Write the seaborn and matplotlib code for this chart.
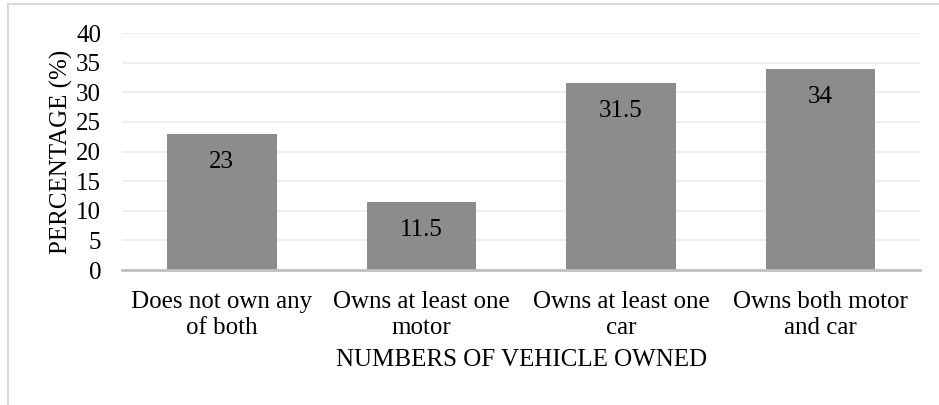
import matplotlib
matplotlib.use("Agg")
import matplotlib.pyplot as plt
import seaborn as sns
import pandas as pd
from matplotlib.patches import Rectangle

categories = ["Does not own any\nof both", "Owns at least one\nmotor", "Owns at least one\ncar", "Owns both motor\nand car"]
values = [23, 11.5, 31.5, 34]
value_labels = ["23", "11.5", "31.5", "34"]
yticks = [0, 5, 10, 15, 20, 25, 30, 35, 40]

sns.set_theme(style="white")
plt.rcParams['font.family'] = ['Liberation Serif', 'DejaVu Serif']

FS = 18
df = pd.DataFrame({"cat": categories, "val": values})

fig = plt.figure(figsize=(9.39, 4.05), dpi=100)
ax = fig.add_axes([0.130, 0.333, 0.850, 0.5855])
sns.barplot(data=df, x="cat", y="val", color="#8c8c8c", saturation=1, width=0.55, ax=ax, zorder=3)
for p in ax.patches:
    p.set_edgecolor("none")

ax.set_ylim(0, 40)
ax.set_yticks(yticks)
ax.set_yticklabels([str(t) for t in yticks], fontsize=FS, color="#000000")
ax.tick_params(axis='x', labelsize=FS, colors="#000000", length=0, pad=15)
ax.tick_params(axis='y', length=0, pad=15)
for t in ax.get_xticklabels():
    t.set_linespacing(1.25)
ax.set_xlim(-0.5, 3.5)
ax.yaxis.grid(True, color="#efefef", linewidth=1.5, zorder=0)
ax.set_axisbelow(True)
for s in ["top", "right", "left"]:
    ax.spines[s].set_visible(False)
ax.spines["bottom"].set_color("#bfbfbf")
ax.spines["bottom"].set_linewidth(2)
ax.spines["bottom"].set_zorder(4)

ax.set_xlabel("NUMBERS OF VEHICLE OWNED", fontsize=FS, color="#000000", labelpad=7)
ax.set_ylabel("PERCENTAGE (%)", fontsize=FS, color="#000000", labelpad=2)

for p, lab in zip(ax.patches, value_labels):
    ax.annotate(lab, (p.get_x() + p.get_width() / 2, p.get_height()),
                xytext=(0, -28), textcoords="offset pixels",
                ha="center", va="center", fontsize=FS, color="#000000", zorder=5)

fig.patches.append(Rectangle((8 / 939, -0.1), 1.2, (401 / 405) + 0.1, transform=fig.transFigure,
                             fill=False, edgecolor="#d9d9d9", linewidth=1.5))

fig.savefig("out.png", dpi=100, facecolor="white")
